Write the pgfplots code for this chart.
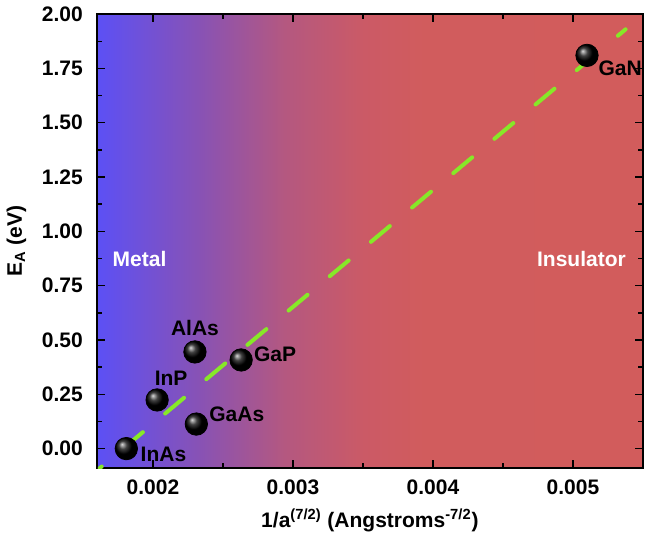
\documentclass[border=0pt]{standalone}
\usepackage{fontspec}
\setmainfont{Liberation Sans}
\usepackage{pgfplots}
\pgfplotsset{compat=1.18}

\definecolor{bgA}{RGB}{92,80,245}
\definecolor{bgB}{RGB}{135,82,182}
\definecolor{bgC}{RGB}{180,88,128}
\definecolor{bgD}{RGB}{203,90,102}
\definecolor{bgE}{RGB}{209,92,93}
\definecolor{bgF}{RGB}{210,92,92}
\definecolor{fitgreen}{RGB}{135,232,40}

% colour stops between 25bp and 75bp = left and right edge of the axis
\pgfdeclarehorizontalshading{metalins}{100bp}{%
  color(0bp)=(bgA); color(25bp)=(bgA); color(34.2bp)=(bgB);
  color(42.2bp)=(bgC); color(49.5bp)=(bgD); color(55bp)=(bgE);
  color(75bp)=(bgF); color(100bp)=(bgF)}

\begin{document}
\begin{tikzpicture}
\begin{axis}[
  name=ax,
  scale only axis,
  width=273pt, height=227pt,
  xmin=0.0016, xmax=0.0055,
  ymin=-0.09, ymax=2.0,
  xtick={0.002,0.003,0.004,0.005},
  minor x tick num=1,
  ytick={0,0.25,0.5,0.75,1,1.25,1.5,1.75,2},
  minor y tick num=1,
  tick align=inside,
  major tick length=4pt, minor tick length=2.5pt,
  every tick/.style={black, line width=0.7pt},
  axis line style={line width=0.8pt},
  scaled x ticks=false,
  xticklabel style={/pgf/number format/fixed, /pgf/number format/precision=3,
    yshift=-2.5pt},
  yticklabel style={/pgf/number format/fixed, /pgf/number format/fixed zerofill,
    /pgf/number format/precision=2, xshift=-3.5pt},
  /pgf/number format/assume math mode=true,
  tick label style={font=\bfseries\fontsize{10.5}{12}\selectfont},
  label style={font=\bfseries\fontsize{10.5}{12}\selectfont},
  xlabel={1/a\textsuperscript{(7/2)} (Angstroms\textsuperscript{-7/2})},
  ylabel={E\textsubscript{A} (eV)},
  ylabel style={yshift=1pt},
  axis background/.style={shade, shading=metalins},
  clip=true,
]
% linear fit
\addplot[fitgreen, line width=2pt, line cap=round,
  dash pattern=on 12.3pt off 14.5pt, dash phase=11pt]
  coordinates {(0.00162,-0.09) (0.005376,1.93)};

% compounds
\addplot[only marks, mark=ball, mark size=5.6pt, mark options={ball color=black}]
  coordinates {
  (0.00181,0.00)
  (0.00203,0.224)
  (0.00231,0.113)
  (0.00230,0.445)
  (0.00263,0.408)
  (0.00510,1.81)
};

\begin{scope}[font=\bfseries\fontsize{10.5}{12}\selectfont]
\node[anchor=west, inner sep=0pt] at (axis cs:0.00191,-0.025) {InAs};
\node[inner sep=0pt] at (axis cs:0.00213,0.325) {InP};
\node[inner sep=0pt] at (axis cs:0.00230,0.555) {AlAs};
\node[anchor=west, inner sep=0pt] at (axis cs:0.00272,0.435) {GaP};
\node[anchor=west, inner sep=0pt] at (axis cs:0.00240,0.160) {GaAs};
\node[anchor=west, inner sep=0pt] at (axis cs:0.00518,1.75) {GaN};
\node[anchor=west, inner sep=0pt, white] at (axis cs:0.00171,0.873) {Metal};
\node[anchor=east, inner sep=0pt, white] at (axis cs:0.00538,0.873) {Insulator};
\end{scope}
\end{axis}
% right margin
\draw[draw=none] (ax.east) -- ++(7pt,0);
\end{tikzpicture}
\end{document}
